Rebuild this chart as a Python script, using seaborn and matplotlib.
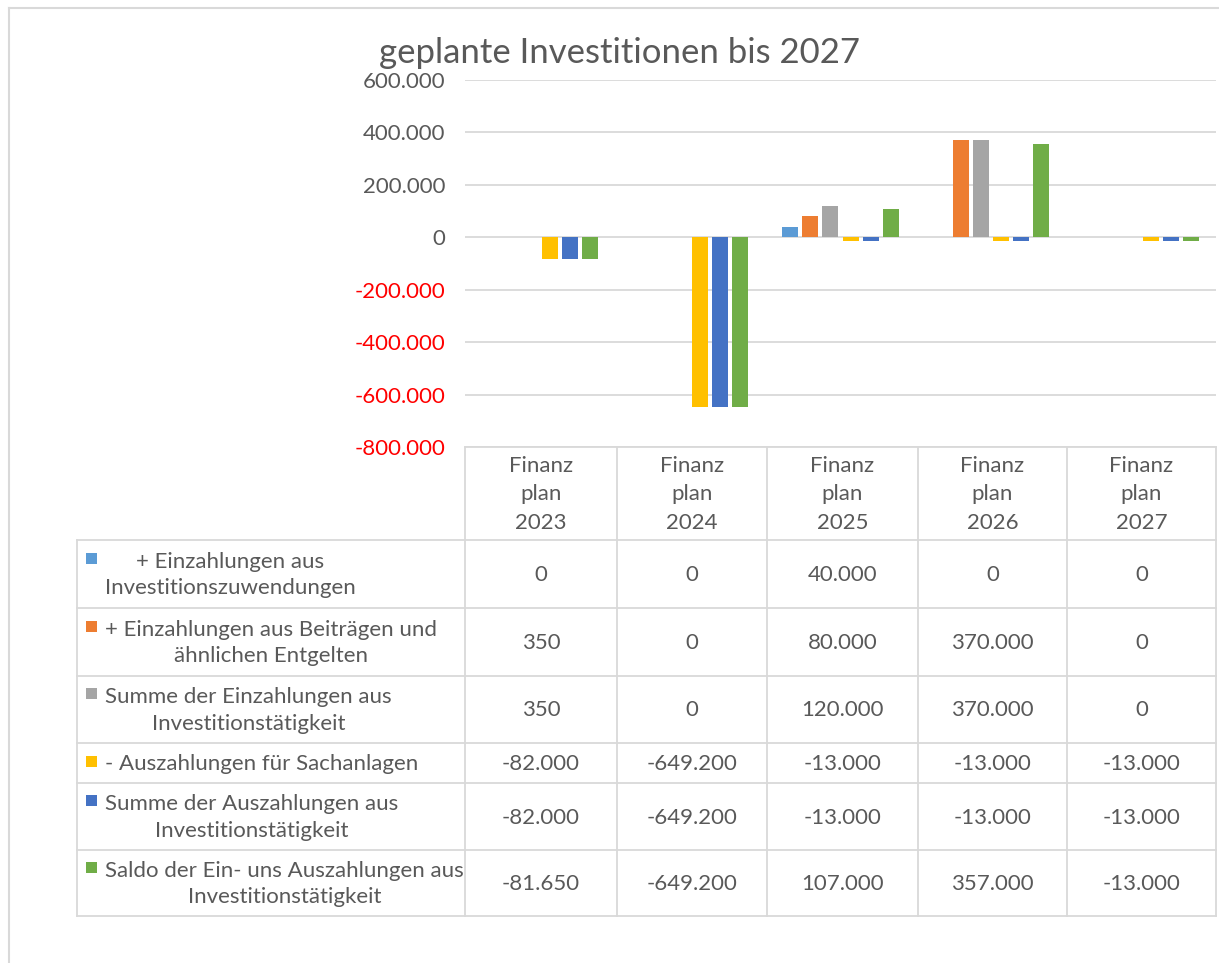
import matplotlib
matplotlib.use("Agg")
import matplotlib.pyplot as plt
from matplotlib.lines import Line2D
from matplotlib.patches import Rectangle
import seaborn as sns
import pandas as pd

# ---------------- data ----------------
years = ["2023", "2024", "2025", "2026", "2027"]
header_labels = ["Finanz\nplan\n" + y for y in years]

series_names = [
    "+ Einzahlungen aus\nInvestitionszuwendungen",
    "+ Einzahlungen aus Beiträgen und\nähnlichen Entgelten",
    "Summe der Einzahlungen aus\nInvestitionstätigkeit",
    "- Auszahlungen für Sachanlagen",
    "Summe der Auszahlungen aus\nInvestitionstätigkeit",
    "Saldo der Ein- uns Auszahlungen aus\nInvestitionstätigkeit",
]
einz_zuwendungen = [0, 0, 40000, 0, 0]
einz_beitraege = [350, 0, 80000, 370000, 0]
summe_einz = [350, 0, 120000, 370000, 0]
ausz_sachanlagen = [-82000, -649200, -13000, -13000, -13000]
summe_ausz = [-82000, -649200, -13000, -13000, -13000]
saldo = [-81650, -649200, 107000, 357000, -13000]
series_values = [einz_zuwendungen, einz_beitraege, summe_einz,
                 ausz_sachanlagen, summe_ausz, saldo]
colors = ["#5B9BD5", "#ED7D31", "#A5A5A5", "#FFC000", "#4472C4", "#70AD47"]
title = "geplante Investitionen bis 2027"
y_ticks = [-800000, -600000, -400000, -200000, 0, 200000, 400000, 600000]

def de(v):
    return format(int(v), ",").replace(",", ".")

rows = []
for name, vals in zip(series_names, series_values):
    for y, v in zip(years, vals):
        rows.append({"year": y, "series": name, "value": v})
df = pd.DataFrame(rows)

# ---------------- figure ----------------
W, H = 1219, 963
fig = plt.figure(figsize=(W / 100, H / 100), dpi=100)
fig.patch.set_facecolor("white")
FONT = ["Lato", "DejaVu Sans"]
plt.rcParams["font.family"] = FONT
TXT = "#595959"
GRID = "#D9D9D9"

# pixel layout
col_x = [465, 617, 767, 918, 1067, 1216]
row_y = [447, 540, 608, 676, 743, 783, 850, 916]
tab_left = 77
plot_top = 80

ax = fig.add_axes([col_x[0] / W, 1 - row_y[0] / H,
                   (col_x[-1] - col_x[0]) / W, (row_y[0] - plot_top) / H])
sns.barplot(data=df, x="year", y="value", hue="series", hue_order=series_names,
            order=years, palette=colors, saturation=1, width=0.8, gap=0.2,
            linewidth=0, edgecolor="none", legend=False, ax=ax, zorder=3)
ax.set_xlim(-0.5, len(years) - 0.5)
ax.set_ylim(y_ticks[0], y_ticks[-1])
ax.set_yticks(y_ticks)
ax.set_yticklabels([de(t) for t in y_ticks])
for t, lab in zip(y_ticks, ax.get_yticklabels()):
    lab.set_color("#FF0000" if t < 0 else TXT)
    lab.set_fontsize(16)
ax.tick_params(axis="y", length=0, pad=14)
ax.tick_params(axis="x", length=0, labelbottom=False)
ax.set_xlabel("")
ax.set_ylabel("")
for s in ax.spines.values():
    s.set_visible(False)
ax.yaxis.grid(True, color=GRID, linewidth=1.3)
ax.set_axisbelow(True)
ax.set_facecolor("none")

fig.text(619 / W, 1 - 53 / H, title, ha="center", va="center",
         fontsize=25, color=TXT, family=FONT)

# ---------------- data table ----------------
tax = fig.add_axes([0, 0, 1, 1], zorder=-1)
tax.set_xlim(0, W)
tax.set_ylim(H, 0)
tax.axis("off")

lw = 1.3
# figure border (left + top)
tax.add_line(Line2D([9, 9], [8, H], color=GRID, lw=1.5))
tax.add_line(Line2D([9, W], [8, 8], color=GRID, lw=1.5))

# header cells
tax.add_line(Line2D([col_x[0], col_x[-1]], [row_y[0], row_y[0]], color=GRID, lw=lw))
for x in col_x:
    tax.add_line(Line2D([x, x], [row_y[0], row_y[-1]], color=GRID, lw=lw))
tax.add_line(Line2D([tab_left, tab_left], [row_y[1], row_y[-1]], color=GRID, lw=lw))
for y in row_y[1:]:
    tax.add_line(Line2D([tab_left, col_x[-1]], [y, y], color=GRID, lw=lw))

fs = 16
for i, lab in enumerate(header_labels):
    cx = (col_x[i] + col_x[i + 1]) / 2
    tax.text(cx, (row_y[0] + row_y[1]) / 2 + 1, lab, ha="center", va="center",
             fontsize=fs, color=TXT, linespacing=1.52, multialignment="center")

line_h = 28
for r, (name, vals, c) in enumerate(zip(series_names, series_values, colors)):
    cy = (row_y[r + 1] + row_y[r + 2]) / 2
    n = name.count("\n") + 1
    first = cy - (n - 1) * line_h / 2
    tax.add_patch(Rectangle((86, first - 7), 11, 11, color=c, lw=0))
    tax.text(105, cy + 1, name, ha="left", va="center", fontsize=fs, color=TXT,
             linespacing=1.42, multialignment="center")
    for i, v in enumerate(vals):
        cx = (col_x[i] + col_x[i + 1]) / 2
        tax.text(cx, cy + 1, de(v), ha="center", va="center", fontsize=fs, color=TXT)

fig.savefig("out.png", dpi=100, facecolor="white")
